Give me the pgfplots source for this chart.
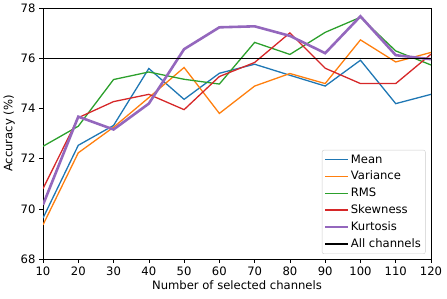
\documentclass[border=0pt]{standalone}
\usepackage{pgfplots}
\pgfplotsset{compat=1.18}
\usepackage{fontspec}
\setmainfont{DejaVu Sans}
\definecolor{tabblue}{HTML}{1F77B4}
\definecolor{taborange}{HTML}{FF7F0E}
\definecolor{tabgreen}{HTML}{2CA02C}
\definecolor{tabred}{HTML}{D62728}
\definecolor{tabpurple}{HTML}{9467BD}
\newcommand{\fs}{\fontsize{11.6bp}{13.5bp}\selectfont}
\begin{document}
\fs
\begin{tikzpicture}
\begin{axis}[name=ax,
  scale only axis, width=388bp, height=251bp,
  xmin=10, xmax=120, ymin=68, ymax=78,
  xtick={10,20,...,120}, ytick={68,70,...,78},
  tick align=outside, tick pos=left,
  major tick length=3.5bp,
  tick style={black, line width=0.6pt},
  axis line style={line width=0.6pt},
  /pgf/number format/assume math mode=true,
  ticklabel style={font=\fs},
  label style={font=\fs},
  xlabel={Number of selected channels},
  ylabel={Accuracy (\%)},
  xlabel style={yshift=3bp},
  ylabel style={yshift=-2bp},
  legend cell align=left,
  legend style={font=\fs, draw=black!20, rounded corners=2bp, inner sep=2.5bp, row sep=2.4bp, at={(0.986,0.02)}, anchor=south east},
  legend image code/.code={\draw[#1, line width=1.3pt] (0bp,0bp) -- (23bp,0bp);},
  every axis plot/.append style={line width=1.3pt},
]
\addplot[tabblue] coordinates {(10,69.63) (20,72.53) (30,73.32) (40,75.59) (50,74.36) (60,75.40) (70,75.76) (80,75.32) (90,74.89) (100,75.92) (110,74.19) (120,74.56)};
\addlegendentry{Mean}
\addplot[taborange] coordinates {(10,69.36) (20,72.23) (30,73.25) (40,74.43) (50,75.63) (60,73.80) (70,74.89) (80,75.39) (90,74.99) (100,76.73) (110,75.85) (120,76.23)};
\addlegendentry{Variance}
\addplot[tabgreen] coordinates {(10,72.49) (20,73.29) (30,75.15) (40,75.45) (50,75.16) (60,74.97) (70,76.63) (80,76.15) (90,77.03) (100,77.63) (110,76.29) (120,75.73)};
\addlegendentry{RMS}
\addplot[tabred] coordinates {(10,70.80) (20,73.63) (30,74.27) (40,74.56) (50,73.95) (60,75.27) (70,75.83) (80,77.01) (90,75.60) (100,74.99) (110,74.99) (120,76.16)};
\addlegendentry{Skewness}
\addplot[tabpurple, line width=2.6pt] coordinates {(10,70.16) (20,73.67) (30,73.16) (40,74.19) (50,76.36) (60,77.23) (70,77.27) (80,76.89) (90,76.20) (100,77.67) (110,76.12) (120,75.96)};
\addlegendentry{Kurtosis}
\addplot[black] coordinates {(10,76) (120,76)};
\addlegendentry{All channels}
\end{axis}
\pgfresetboundingbox
\path[use as bounding box] ([shift={(-43bp,-40bp)}]ax.south west) rectangle ([shift={(16bp,8bp)}]ax.north east);
\end{tikzpicture}
\end{document}
